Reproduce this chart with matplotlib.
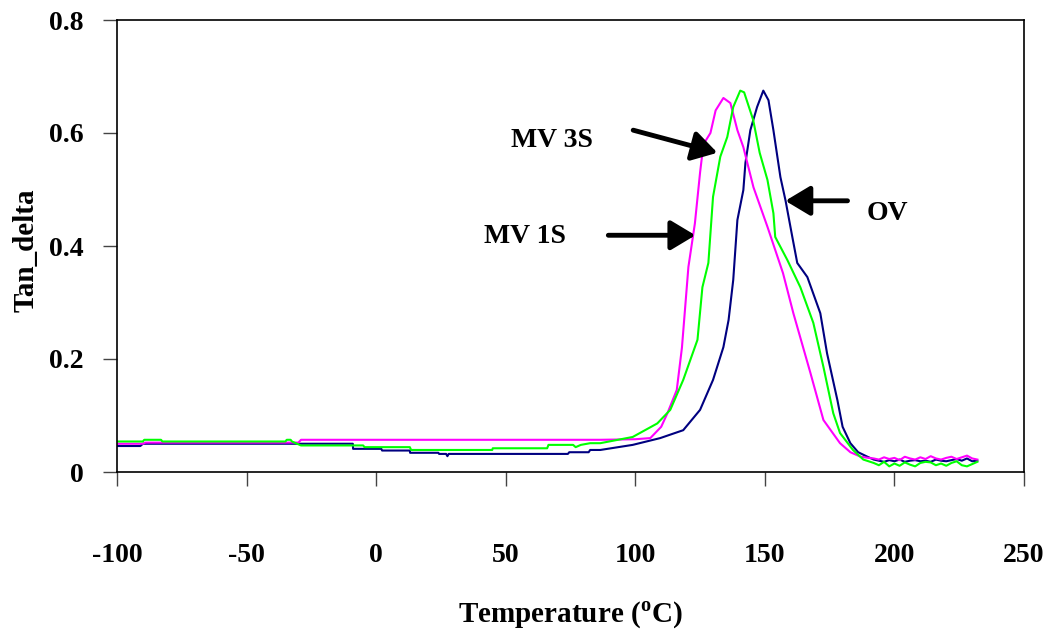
import matplotlib
matplotlib.use("Agg")
import matplotlib.pyplot as plt
import numpy as np

plt.rcParams['font.family'] = ['Liberation Serif', 'DejaVu Serif']
plt.rcParams['font.weight'] = 'bold'
plt.rcParams['mathtext.fontset'] = 'custom'
plt.rcParams['mathtext.rm'] = 'Liberation Serif:bold'
plt.rcParams['mathtext.bf'] = 'Liberation Serif:bold'

tail_x = [192, 194, 196, 198, 200, 202, 204, 206, 208, 210, 212, 214, 216, 218, 220, 222, 224, 226, 228, 230, 232]

# OV (navy)
ov_x = [-100, -91, -90, -30, -9, -8.9, 2, 2.3, 13, 13.1, 24, 24.3, 27, 27.5, 28, 74, 74.5, 82, 82.6,
        86.5, 99, 109.6, 118.5, 125, 130, 134, 136, 137.8, 139.4, 141.7, 142.5, 144.4, 147, 149.4,
        151.4, 153.3, 156, 158, 160.6, 162.5, 166.4, 171.4, 174, 178, 180, 183, 186, 189.6] + tail_x
ov_y = [0.046, 0.046, 0.05, 0.05, 0.05, 0.041, 0.041, 0.038, 0.038, 0.034, 0.034, 0.032, 0.032, 0.028, 0.032, 0.032, 0.035, 0.035, 0.039,
        0.039, 0.048, 0.06, 0.074, 0.11, 0.163, 0.221, 0.269, 0.34, 0.446, 0.499, 0.547, 0.605, 0.646, 0.675,
        0.658, 0.605, 0.522, 0.48, 0.416, 0.37, 0.345, 0.281, 0.21, 0.127, 0.08, 0.051, 0.035, 0.027] + \
       [0.022, 0.02, 0.018, 0.021, 0.019, 0.022, 0.018, 0.02, 0.021, 0.019, 0.02, 0.018, 0.022, 0.02, 0.019, 0.021, 0.023, 0.02, 0.024, 0.019, 0.02]

# MV 3S (magenta)
mv3_x = [-100, -90, -89, -30, -29, 86.5, 100, 105.8, 110, 112.4, 116, 118, 120.5, 123, 125, 126.3, 129, 131,
         134, 136.7, 139.4, 141.7, 145.6, 151, 157, 161, 167.6, 172.6, 179, 183, 187, 190] + tail_x
mv3_y = [0.05, 0.05, 0.052, 0.052, 0.057, 0.057, 0.058, 0.06, 0.08, 0.104, 0.145, 0.22, 0.363, 0.44, 0.53, 0.58, 0.60, 0.64,
         0.662, 0.653, 0.605, 0.575, 0.504, 0.434, 0.352, 0.281, 0.175, 0.092, 0.051, 0.035, 0.027, 0.025] + \
        [0.024, 0.022, 0.026, 0.023, 0.025, 0.021, 0.027, 0.024, 0.022, 0.026, 0.023, 0.028, 0.024, 0.022, 0.025, 0.027, 0.023, 0.026, 0.029, 0.024, 0.022]

# MV 1S (green)
mv1_x = [-100, -90, -89.5, -83, -82.5, -35, -34.5, -33, -32.5, -29, -5, -4.5, 13, 13.5, 44.8, 45, 66, 66.5, 76, 77, 79, 82.6,
         86.5, 99, 108.5, 113.5, 118.5, 124, 125.9, 128.2, 130, 132.8, 135.5, 137.8, 140.5, 142, 145.5, 148, 151, 153.3,
         154, 158.7, 163.7, 168.7, 172.6, 176.4, 179, 184, 188] + tail_x
mv1_y = [0.054, 0.054, 0.057, 0.057, 0.054, 0.054, 0.057, 0.057, 0.054, 0.047, 0.047, 0.044, 0.044, 0.039, 0.039, 0.042, 0.042, 0.048, 0.048, 0.044, 0.048, 0.051,
         0.051, 0.062, 0.086, 0.11, 0.163, 0.234, 0.327, 0.37, 0.487, 0.558, 0.593, 0.646, 0.675, 0.672, 0.623, 0.565, 0.517, 0.458,
         0.416, 0.375, 0.327, 0.264, 0.186, 0.104, 0.069, 0.039, 0.022] + \
        [0.016, 0.012, 0.018, 0.01, 0.015, 0.011, 0.017, 0.013, 0.01, 0.016, 0.018, 0.017, 0.012, 0.015, 0.011, 0.016, 0.019, 0.012, 0.01, 0.014, 0.018]

x_ticks = [-100, -50, 0, 50, 100, 150, 200, 250]
y_ticks = [0, 0.2, 0.4, 0.6, 0.8]
y_tick_labels = ['0', '0.2', '0.4', '0.6', '0.8']

fig = plt.figure(figsize=(10.48, 6.33), dpi=100)
ax = fig.add_axes([117/1048, 1 - 472/633, (1024-117)/1048, (472-20)/633])

ax.plot(ov_x, ov_y, color='#000080', lw=1.5)
ax.plot(mv3_x, mv3_y, color='#FF00FF', lw=1.5)
ax.plot(mv1_x, mv1_y, color='#00FF00', lw=1.5)

ax.set_xlim(-100, 250)
ax.set_ylim(0, 0.8)
ax.set_xticks(x_ticks)
ax.set_xticklabels([str(t) for t in x_ticks])
ax.set_yticks(y_ticks)
ax.set_yticklabels(y_tick_labels)
ax.tick_params(axis='x', direction='out', length=10, width=1, color='#444444', pad=41, labelsize=20)
ax.tick_params(axis='y', direction='out', length=10, width=1, color='#444444', pad=14, labelsize=20)
for lbl in ax.get_xticklabels() + ax.get_yticklabels():
    lbl.set_fontweight('bold')
for s in ax.spines.values():
    s.set_linewidth(1.2)
    s.set_color('black')

ax.set_ylabel('Tan_delta', fontsize=21, fontweight='bold', labelpad=9)
ax.yaxis.set_label_coords(-0.085, 0.49)
ax.set_xlabel(r'Temperature ($^{\mathrm{o}}$C)', fontsize=21, fontweight='bold', labelpad=23)

arrow_kw = dict(arrowstyle='-|>,head_length=0.75,head_width=0.45', lw=3.5, color='black', mutation_scale=20,
                shrinkA=0, shrinkB=0)
ax.annotate('', xy=(131.7, 0.565), xytext=(99.2, 0.605), arrowprops=arrow_kw)
ax.annotate('', xy=(123.2, 0.419), xytext=(89.6, 0.419), arrowprops=arrow_kw)
ax.annotate('', xy=(157.9, 0.48), xytext=(181.9, 0.48), arrowprops=arrow_kw)

ax.text(67.8, 0.586, 'MV 3S', fontsize=20, fontweight='bold', ha='center', va='center')
ax.text(57.5, 0.417, 'MV 1S', fontsize=20, fontweight='bold', ha='center', va='center')
ax.text(197.3, 0.458, 'OV', fontsize=20, fontweight='bold', ha='center', va='center')

fig.savefig('out.png', dpi=100)
